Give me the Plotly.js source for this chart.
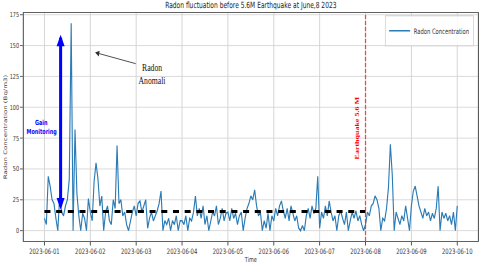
<!DOCTYPE html>
<html>
<head>
<meta charset="utf-8">
<script src="https://cdn.plot.ly/plotly-3.0.1.min.js"></script>
<style>
html,body{margin:0;padding:0;overflow:hidden;background:#fff;}
#wrap{width:480px;height:264px;overflow:hidden;position:relative;}
#plot{width:686px;height:264px;transform:scaleX(0.69971);transform-origin:0 0;}
</style>
</head>
<body>
<div id="wrap"><div id="plot"></div></div>
<script>
// ---- data (hourly readings, Bq/m3) ----
const day0601 = [10, 5, 44, 36, 25, 22, 10, 0, 28, 15, 12, 20, 25, 42, 168, 0, 82, 30, 12, 0, 14, 10, 0, 26];
const day0602 = [15, 8, 40, 55, 42, 20, 28, 0, 15, 20, 8, 5, 25, 18, 69, 22, 25, 12, 15, 5, 0, 8, 15, 20];
const day0603 = [12, 22, 24, 15, 20, 25, 2, 10, 15, 8, 12, 16, 22, 32, 0, 8, 5, 10, 0, 8, 5, 12, 0, 8];
const day0604 = [8, 5, 12, 0, 10, 8, 15, 28, 12, 18, 10, 20, 5, 12, 0, 8, 15, 12, 20, 5, 10, 18, 8, 14];
const day0605 = [15, 8, 18, 10, 14, 5, 12, 15, 0, 10, 18, 22, 28, 25, 33, 20, 12, 15, 0, 8, 2, 14, 0, 12];
const day0606 = [8, 18, 12, 20, 24, 16, 10, 18, 8, 20, 14, 8, 12, 2, 0, 4, 0, 12, 18, 10, 20, 14, 18, 44];
const day0607 = [2, 15, 10, 20, 12, 24, 15, 8, 12, 0, 12, 16, 10, 5, 15, 0, 8, 15, 10, 16, 8, 12, 5, 0];
const day0608 = [5, 15, 12, 20, 22, 28, 25, 18, 0, 10, 8, 18, 35, 70, 45, 0, 15, 10, 5, 12, 8, 20, 10, 0];
const day0609 = [20, 32, 36, 28, 20, 15, 10, 18, 12, 15, 8, 14, 10, 18, 36, 0, 15, 10, 14, 8, 12, 5, 15, 0];
const day0610 = [20];

const tickDates = ['2023-06-01','2023-06-02','2023-06-03','2023-06-04','2023-06-05',
                   '2023-06-06','2023-06-07','2023-06-08','2023-06-09','2023-06-10'];
const yTicks = [0, 25, 50, 75, 100, 125, 150, 175];

const baselineX = ['2023-06-01 00:00', '2023-06-08 00:00'];
const baselineY = [15.5, 15.5];
const quakeTime = '2023-06-08 00:00';

const seriesName = 'Radon Concentration';
const titleText = 'Radon fluctuation before 5.6M Earthquake at June,8 2023';

// ---- build ----
const radon = [].concat(day0601, day0602, day0603, day0604, day0605, day0606, day0607, day0608, day0609, day0610);
const times = radon.map((_, i) => {
  const d = new Date(Date.UTC(2023, 5, 1, i));
  return d.toISOString().slice(0, 16).replace('T', ' ');
});

const traces = [
  {x: times, y: radon, type: 'scatter', mode: 'lines', name: seriesName,
   line: {color: '#2a7bb6', width: 1.6}, hoverinfo: 'skip'},
  {x: baselineX, y: baselineY, type: 'scatter', mode: 'lines', showlegend: false,
   line: {color: '#000000', width: 3, dash: '8.6px,8.1px'}, hoverinfo: 'skip'}
];

const layout = {
  width: 686, height: 264,
  margin: {l: 34, r: 3, t: 13, b: 23, pad: 0},
  paper_bgcolor: '#ffffff', plot_bgcolor: '#ffffff',
  font: {family: 'DejaVu Sans', size: 7, color: '#333333'},
  title: {text: titleText, font: {family: 'DejaVu Sans', size: 8.5, color: '#222222'},
          x: 0.5, xref: 'paper', xanchor: 'center', y: 0.981, yref: 'container', yanchor: 'middle'},
  xaxis: {type: 'date', range: ['2023-05-31 13:12', '2023-06-10 10:48'],
          tickvals: tickDates, ticktext: tickDates, tickfont: {size: 7.5, color: '#333'},
          ticks: 'outside', ticklen: 3.5, tickwidth: 1.3, tickcolor: '#444',
          showgrid: true, gridcolor: '#d5d5d5', gridwidth: 1.4,
          showline: true, mirror: true, linecolor: '#444', linewidth: 1,
          zeroline: false, automargin: false,
          title: {text: 'Time', font: {size: 7, color: '#333'}}},
  yaxis: {range: [-8.4, 176.4], tickvals: yTicks, tickfont: {size: 7, color: '#333'},
          ticks: 'outside', ticklen: 4, tickwidth: 1, tickcolor: '#444',
          showgrid: true, gridcolor: '#d5d5d5', gridwidth: 1,
          showline: true, mirror: true, linecolor: '#444', linewidth: 1.4,
          zeroline: false, automargin: false,
          title: {text: 'Radon Concentration (Bq/m3)', font: {size: 7, color: '#333'}}},
  showlegend: true,
  legend: {x: 0.991, xanchor: 'right', y: 0.99, yanchor: 'top',
           bgcolor: 'rgba(255,255,255,0.85)', bordercolor: '#cccccc', borderwidth: 1,
           font: {size: 7.5, color: '#333'}},
  shapes: [
    {type: 'line', xref: 'x', yref: 'paper', x0: quakeTime, x1: quakeTime, y0: 0, y1: 1,
     line: {color: 'rgba(255,30,30,0.8)', width: 1.8, dash: '4px,2px'}}
  ],
  annotations: [
    {x: '2023-05-31 22:23', y: 87.1, xref: 'x', yref: 'y', text: 'Gain', showarrow: false,
     font: {family: 'DejaVu Sans', size: 7, color: '#0000ff', weight: 'bold'}},
    {x: '2023-05-31 22:23', y: 79.9, xref: 'x', yref: 'y', text: 'Monitoring', showarrow: false,
     font: {family: 'DejaVu Sans', size: 7, color: '#0000ff', weight: 'bold'}},
    {x: '2023-06-01 08:28', y: 17.2, ax: '2023-06-01 08:28', ay: 160, xref: 'x', yref: 'y',
     axref: 'x', ayref: 'y', text: '', showarrow: true, arrowside: 'end+start',
     arrowhead: 2, startarrowhead: 2, arrowsize: 0.535, startarrowsize: 0.535,
     arrowwidth: 4.3, arrowcolor: '#0000ff'},
    {x: '2023-06-02 02:30', y: 144.4, ax: '2023-06-03 00:19', ay: 135.1, xref: 'x', yref: 'y',
     axref: 'x', ayref: 'y', text: '', showarrow: true, arrowhead: 2, arrowsize: 1.2,
     arrowwidth: 1, arrowcolor: '#333333'},
    {x: '2023-06-03 08:18', y: 132.4, xref: 'x', yref: 'y', text: 'Radon', showarrow: false,
     font: {family: 'Liberation Serif', size: 11, color: '#111111'}},
    {x: '2023-06-03 08:18', y: 121.7, xref: 'x', yref: 'y', text: 'Anomali', showarrow: false,
     font: {family: 'Liberation Serif', size: 11, color: '#111111'}},
    {x: '2023-06-07 19:46', y: 83.5, xref: 'x', yref: 'y', text: 'Earthquake 5.6 M', textangle: -90,
     showarrow: false, font: {family: 'Liberation Serif', size: 8, color: '#ff0000', weight: 'bold'}}
  ]
};

Plotly.newPlot('plot', traces, layout, {staticPlot: true, displayModeBar: false});
</script>
</body>
</html>
